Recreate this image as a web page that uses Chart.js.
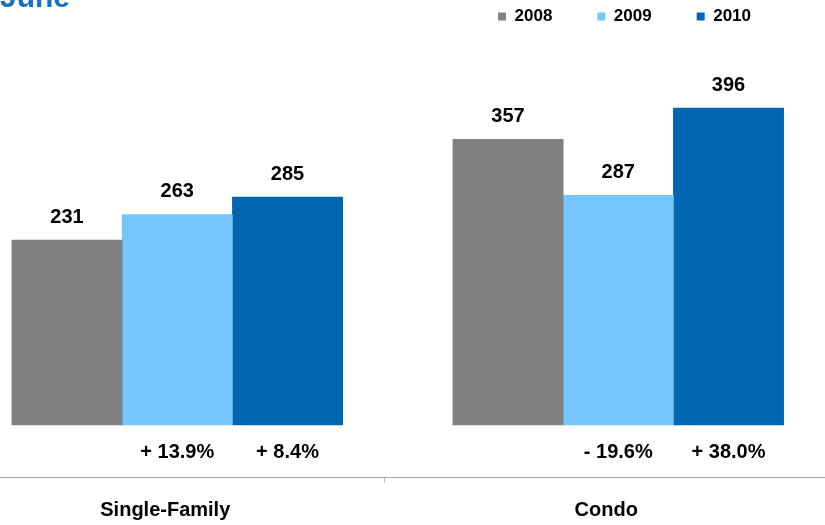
<!DOCTYPE html>
<html>
<head>
<meta charset="utf-8">
<script src="https://cdn.jsdelivr.net/npm/chart.js@4.4.0/dist/chart.umd.min.js"></script>
<style>
    html, body { margin: 0; padding: 0; background: #fff; overflow: hidden; }
    body { width: 825px; height: 525px; position: relative; }
    #wrap { position: absolute; left: 0; top: -37px; width: 825px; height: 562px; }
    #title { position: absolute; left: 0; top: -18px; font: bold 30px 'Liberation Sans', Arial, sans-serif; line-height: 30px; color: #1b70bd; }
</style>
</head>
<body>
<div id="wrap"><canvas id="juneChart"></canvas></div>
<div id="title">June</div>
<script>

// June sales, by property type

const categories = ['Single-Family', 'Condo'];
const years = ['2008', '2009', '2010'];
const sales2008 = [231, 357];
const sales2009 = [263, 287];
const sales2010 = [285, 396];
const change2009 = ['+ 13.9%', '- 19.6%'];
const change2010 = ['+ 8.4%', '+ 38.0%'];

const xTickValues = [1, 1.471, 2]; // middle one is the divider tick between groups
const xTickLabels = [categories[0], '', categories[1]];

const FONT = "'Liberation Sans', Arial, sans-serif";
const colors = ['#808080', '#75c5ff', '#0066b0'];

const toPoints = vals => vals.map((v, i) => ({ x: i + 1, y: v }));

// values above the bars, yoy change under them
const barLabels = {
    id: 'barLabels',
    afterDatasetsDraw(chart) {
        const ctx = chart.ctx;
        ctx.save();
        ctx.font = `bold 20px ${FONT}`;
        ctx.fillStyle = '#000';
        ctx.textAlign = 'center';
        ctx.textBaseline = 'middle';
        chart.data.datasets.forEach((ds, di) => {
            chart.getDatasetMeta(di).data.forEach((bar, i) => {
                ctx.fillText(ds.data[i].y, bar.x, bar.y - 23);
                if (ds.change) ctx.fillText(ds.change[i], bar.x, bar.base + 27);
            });
        });
        ctx.restore();
    }
};

new Chart(document.getElementById('juneChart'), {
    type: 'bar',
    data: {
        datasets: [
            { label: years[0], data: toPoints(sales2008), backgroundColor: colors[0] },
            { label: years[1], data: toPoints(sales2009), backgroundColor: colors[1], change: change2009 },
            { label: years[2], data: toPoints(sales2010), backgroundColor: colors[2], change: change2010 },
        ]
    },
    options: {
        responsive: true,
        maintainAspectRatio: false,
        animation: false,
        layout: { padding: 0 },
        datasets: { bar: { barThickness: 110.25 } },
        plugins: {
            legend: {
                position: 'top',
                align: 'end',
                fullSize: false,
                labels: {
                    boxWidth: 8,
                    boxHeight: 8,
                    padding: 45,
                    color: '#000',
                    font: { family: FONT, size: 17, weight: 'bold' },
                },
            },
            tooltip: { enabled: false },
        },
        scales: {
            x: {
                type: 'linear',
                min: 0.598,
                max: 2.403,
                offset: false,
                afterBuildTicks: s => { s.ticks = xTickValues.map(v => ({ value: v })); },
                afterFit: s => { s.height = 48; },
                grid: {
                    offset: false,
                    drawOnChartArea: false,
                    tickLength: 6,
                    lineWidth: 1,
                    color: ctx => ctx.tick && ctx.tick.value === xTickValues[1] ? '#c0c0c0' : 'rgba(0,0,0,0)',
                },
                border: { display: false },
                ticks: {
                    autoSkip: false,
                    maxRotation: 0,
                    padding: 15,
                    labelOffset: -12,
                    color: '#000',
                    font: { family: FONT, size: 20, weight: 'bold' },
                    callback: (v, i) => xTickLabels[i],
                },
            },
            y: {
                position: 'right',
                min: -65,
                max: 487.5,
                afterBuildTicks: s => { s.ticks = [{ value: -65 }]; },
                afterFit: s => { s.width = 29; },
                ticks: { display: false },
                grid: { color: '#a6a6a6', lineWidth: 1, tickLength: 29 },
                border: { display: false },
            },
        },
    },
    plugins: [barLabels],
});

</script>
</body>
</html>
